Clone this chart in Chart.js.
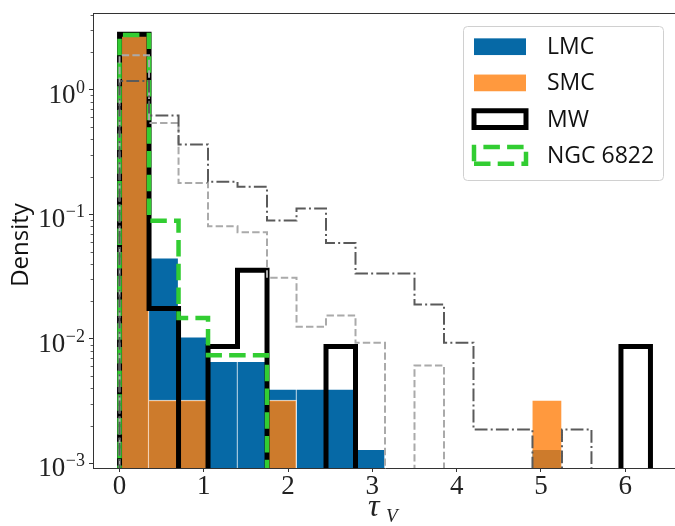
<!DOCTYPE html>
<html>
<head>
<meta charset="utf-8">
<script src="https://cdn.jsdelivr.net/npm/chart.js@4.4.1/dist/chart.umd.min.js"></script>
<style>
  html, body { margin: 0; padding: 0; background: #fff; overflow: hidden; }
</style>
</head>
<body>
<canvas id="tauChart" width="680" height="526"></canvas>
<script>
// histogram bins (tau_V), width 0.35
const binEdges = [0, 0.35, 0.7, 1.05, 1.4, 1.75, 2.1, 2.45, 2.8, 3.15, 3.5, 3.85, 4.2, 4.55, 4.9, 5.25, 5.6, 5.95, 6.3];

// densities per bin (0 = empty bin)
const lmcDensity = [2.77, 0.0446, 0.0104, 0.0066, 0.0066, 0.00396, 0.00396, 0.00396, 0.0013, 0, 0, 0, 0, 0, 0.0013, 0, 0, 0];
const smcDensity = [2.84, 0.00322, 0.00322, 0, 0, 0.00322, 0, 0, 0, 0, 0, 0, 0, 0, 0.00322, 0, 0, 0];
const mwDensity = [2.78, 0.0175, 0, 0.0087, 0.0355, 0, 0, 0.0087, 0, 0, 0, 0, 0, 0, 0, 0, 0, 0.0087];
const ngcDensity = [2.74, 0.0884, 0.0147, 0.00737, 0.00737, 0, 0, 0, 0, 0, 0, 0, 0, 0, 0, 0, 0, 0];
// the two unlabelled grey reference histograms
const greyDashedDensity = [1.885, 0.54, 0.178, 0.0799, 0.0717, 0.0309, 0.0125, 0.0154, 0.0093, 0, 0.00612, 0, 0, 0, 0, 0, 0, 0];
const greyDashDotDensity = [1.17, 0.619, 0.362, 0.182, 0.166, 0.089, 0.111, 0.0588, 0.0334, 0.0334, 0.0189, 0.0093, 0.00187, 0.00187, 0, 0.00187, 0, 0];

const legendLabels = ["LMC", "SMC", "MW", "NGC 6822"];
const xTicks = [0, 1, 2, 3, 4, 5, 6];
const yMajorTicks = [1e-3, 1e-2, 1e-1, 1];
const yExponents = ["\u22123", "\u22122", "\u22121", "0"];

const lmcColor = "#0669a6";
const smcColor = "rgba(255,127,14,0.8)";

const binCenters = binEdges.slice(0, -1).map((e, i) => (e + binEdges[i + 1]) / 2);

function barPoints(values) {
  return values.map((v, i) => ({ x: binCenters[i], y: v > 0 ? v : null }));
}

// outline of a step histogram; empty bins drop below the axis and get clipped
function stepPoints(values) {
  const floor = 1e-6;
  const pts = [{ x: binEdges[0], y: floor }];
  values.forEach((v, i) => {
    const y = v > 0 ? v : floor;
    pts.push({ x: binEdges[i], y: y });
    pts.push({ x: binEdges[i + 1], y: y });
  });
  pts.push({ x: binEdges[binEdges.length - 1], y: floor });
  return pts;
}

// log ticks: every 1..9 x 10^k inside the range
const yMin = 9.2e-4, yMax = 4.09;
const yTickValues = [];
for (let k = -4; k <= 0; k++) {
  for (let m = 1; m <= 9; m++) {
    const v = parseFloat((m * Math.pow(10, k)).toPrecision(3));
    if (v >= yMin && v <= yMax) yTickValues.push(v);
  }
}

const lineBase = {
  type: "line", pointRadius: 0, tension: 0, fill: false, clip: 0,
  borderJoinStyle: "miter", borderCapStyle: "butt"
};

const decor = {
  id: "decor",
  afterDraw(chart) {
    const { ctx, chartArea: a, scales: { y } } = chart;
    ctx.save();

    // top spine
    ctx.strokeStyle = "#333";
    ctx.lineWidth = 1;
    ctx.beginPath();
    ctx.moveTo(a.left, Math.round(a.top) + 0.5);
    ctx.lineTo(a.right, Math.round(a.top) + 0.5);
    ctx.stroke();

    // minor ticks on the log axis
    ctx.lineWidth = 0.8;
    y.ticks.forEach(t => {
      if (t.major) return;
      const py = Math.round(y.getPixelForValue(t.value)) + 0.5;
      ctx.beginPath();
      ctx.moveTo(a.left - 2.4, py);
      ctx.lineTo(a.left, py);
      ctx.stroke();
    });

    // y tick labels 10^k
    ctx.fillStyle = "#222";
    ctx.textAlign = "right";
    ctx.textBaseline = "alphabetic";
    yMajorTicks.forEach((v, i) => {
      const py = y.getPixelForValue(v);
      ctx.font = '18px "Liberation Serif", serif';
      const ew = ctx.measureText(yExponents[i]).width;
      ctx.fillText(yExponents[i], 85, py + 3);
      ctx.font = '27px "Liberation Serif", serif';
      ctx.fillText("10", 85 - ew - 0.5, py + 13);
    });

    // axis titles
    ctx.textAlign = "left";
    ctx.font = 'italic 32px "Liberation Serif", serif';
    ctx.fillText("\u03c4", 368, 516);
    ctx.font = 'italic 19px "Liberation Serif", serif';
    ctx.fillText("V", 386, 522);

    ctx.save();
    ctx.translate(28, 245);
    ctx.rotate(-Math.PI / 2);
    ctx.textAlign = "center";
    ctx.font = '24px "Open Sans", sans-serif';
    ctx.fillStyle = "#111";
    ctx.fillText("Density", 0, 0);
    ctx.restore();

    // legend
    const lx = 463.5, ly = 26.5, lw = 200, lh = 154, r = 4;
    ctx.beginPath();
    ctx.roundRect(lx, ly, lw, lh, r);
    ctx.fillStyle = "rgba(255,255,255,0.8)";
    ctx.fill();
    ctx.strokeStyle = "#d0d0d0";
    ctx.lineWidth = 1;
    ctx.stroke();

    legendLabels.forEach((label, i) => {
      const ds = chart.data.datasets.find(d => d.label === label);
      const cy = 46.7 + i * 36.2;
      const px = 474, pw = 52, ph = 16.7, py = cy - ph / 2;
      if (ds.type === "bar") {
        ctx.fillStyle = ds.backgroundColor;
        ctx.fillRect(px, py, pw, ph);
      } else {
        ctx.lineJoin = "miter";
        ctx.lineWidth = ds.borderWidth;
        ctx.strokeStyle = ds.borderColor;
        ctx.setLineDash(ds.borderDash || []);
        ctx.beginPath();
        ctx.moveTo(px, py + ph);
        ctx.lineTo(px + pw, py + ph);
        ctx.lineTo(px + pw, py);
        ctx.lineTo(px, py);
        ctx.closePath();
        if (!ds.borderDash) { ctx.fillStyle = "#fff"; ctx.fill(); }
        ctx.stroke();
        ctx.setLineDash([]);
      }
      ctx.fillStyle = "#111";
      ctx.font = '23px "Open Sans", sans-serif';
      ctx.textAlign = "left";
      ctx.textBaseline = "middle";
      ctx.fillText(label, 547, cy + 1);
    });

    ctx.restore();
  }
};

new Chart(document.getElementById("tauChart"), {
  type: "bar",
  data: {
    datasets: [
      { type: "bar", label: "LMC", data: barPoints(lmcDensity), backgroundColor: lmcColor,
        borderColor: "#ffffff", borderWidth: { top: 1, right: 1, left: 0, bottom: 0 }, borderSkipped: false,
        grouped: false, barPercentage: 1, categoryPercentage: 1, order: 6, clip: 0 },
      { type: "bar", label: "SMC", data: barPoints(smcDensity), backgroundColor: smcColor,
        borderColor: "rgba(255,255,255,0.8)", borderWidth: { top: 1, right: 1, left: 0, bottom: 0 }, borderSkipped: false,
        grouped: false, barPercentage: 1, categoryPercentage: 1, order: 5, clip: 0 },
      { ...lineBase, label: "MW", data: stepPoints(mwDensity), borderColor: "#000000", borderWidth: 5, order: 4 },
      { ...lineBase, label: "NGC 6822", data: stepPoints(ngcDensity), borderColor: "#32cd32", borderWidth: 4.5,
        borderDash: [16.5, 7.2], order: 3 },
      { ...lineBase, label: "grey dashed", data: stepPoints(greyDashedDensity), borderColor: "#aaaaaa", borderWidth: 2,
        borderDash: [7.4, 3.2], order: 2 },
      { ...lineBase, label: "grey dash-dot", data: stepPoints(greyDashDotDensity), borderColor: "#5a5a5a", borderWidth: 2,
        borderDash: [12.8, 3.2, 2, 3.2], order: 1 }
    ]
  },
  options: {
    responsive: false,
    animation: false,
    devicePixelRatio: 1,
    layout: { padding: { left: 0, right: 3, top: 13.3, bottom: 0 } },
    plugins: { legend: { display: false }, tooltip: { enabled: false } },
    scales: {
      x: {
        type: "linear", min: -0.315, max: 6.615, offset: false,
        grid: { drawOnChartArea: false, drawTicks: true, tickLength: 4, tickColor: "#333", offset: false },
        border: { display: true, color: "#333", width: 1 },
        ticks: { font: { family: "Liberation Serif", size: 27 }, color: "#222", padding: -1,
                 maxRotation: 0, autoSkip: false, callback: v => String(v) },
        afterBuildTicks: s => { s.ticks = xTicks.map(v => ({ value: v })); },
        afterFit: s => { s.height = 58; }
      },
      y: {
        type: "logarithmic", min: yMin, max: yMax,
        grid: { drawOnChartArea: false, drawTicks: true, tickLength: 4,
                tickColor: c => (c.tick && c.tick.major) ? "#333" : "rgba(0,0,0,0)" },
        border: { display: true, color: "#333", width: 1 },
        ticks: { autoSkip: false, callback: () => "" },
        afterBuildTicks: s => {
          s.ticks = yTickValues.map(v => ({ value: v, major: yMajorTicks.includes(v) }));
        },
        afterFit: s => { s.width = 93; }
      }
    }
  },
  plugins: [decor]
});
</script>
</body>
</html>
